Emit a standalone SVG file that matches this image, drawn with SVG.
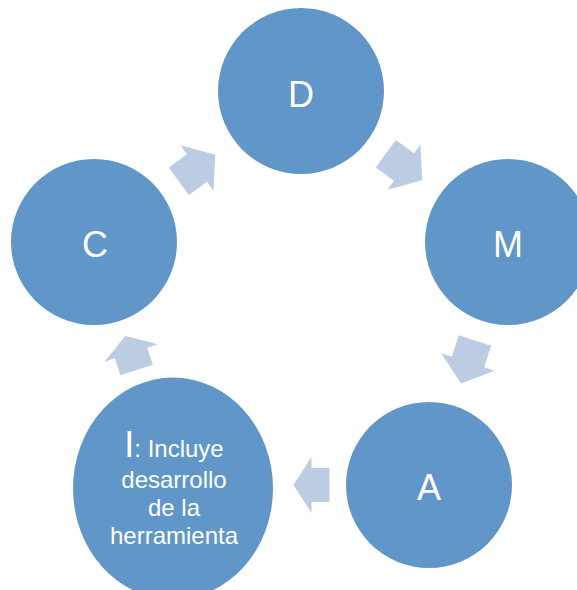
<svg xmlns="http://www.w3.org/2000/svg" width="577" height="590" viewBox="0 0 577 590">
  <style>
    .node { fill: #6096C8; }
    .label { fill: #FFFFFF; font-family: "Liberation Sans", Arial, sans-serif; text-anchor: middle; }
    .big { font-size: 36px; }
    .small { font-size: 24px; }
    .arrow { fill: #BBCCE3; }
  </style>
  <defs>
    <!-- block arrow pointing along +x, centred on the head base -->
    <path id="arrowLong" d="M-22.5,-17 H0 V-28 L22.5,0 L0,28 V17 H-22.5 Z"/>
    <path id="arrowShort" d="M-18,-17 H0 V-28 L18,0 L0,28 V17 H-18 Z"/>
  </defs>

  <rect width="577" height="590" fill="#FFFFFF"/>

  <g id="connectors">
    <use href="#arrowLong" class="arrow" transform="translate(197,168) rotate(-36)"/>
    <use href="#arrowLong" class="arrow" transform="translate(404,167) rotate(36)"/>
    <use href="#arrowLong" class="arrow" transform="translate(468,362) rotate(108)"/>
    <use href="#arrowShort" class="arrow" transform="translate(311.5,485) rotate(180)"/>
    <use href="#arrowShort" class="arrow" transform="translate(131,353) rotate(252)"/>
  </g>

  <g id="node-D">
    <circle class="node" cx="301" cy="91" r="83"/>
    <text class="label big" x="301" y="107">D</text>
  </g>

  <g id="node-M">
    <circle class="node" cx="508" cy="242" r="83"/>
    <text class="label big" x="508" y="257">M</text>
  </g>

  <g id="node-A">
    <circle class="node" cx="429" cy="485" r="83"/>
    <text class="label big" x="429" y="500">A</text>
  </g>

  <g id="node-I">
    <ellipse class="node" cx="173" cy="488.5" rx="100" ry="111"/>
    <text class="label" x="174" y="457"><tspan class="big">I</tspan><tspan class="small">: Incluye</tspan></text>
    <text class="label small" x="174" y="488">desarrollo</text>
    <text class="label small" x="174" y="516">de la</text>
    <text class="label small" x="174" y="544">herramienta</text>
  </g>

  <g id="node-C">
    <circle class="node" cx="94" cy="242" r="83"/>
    <text class="label big" x="95" y="257">C</text>
  </g>
</svg>
